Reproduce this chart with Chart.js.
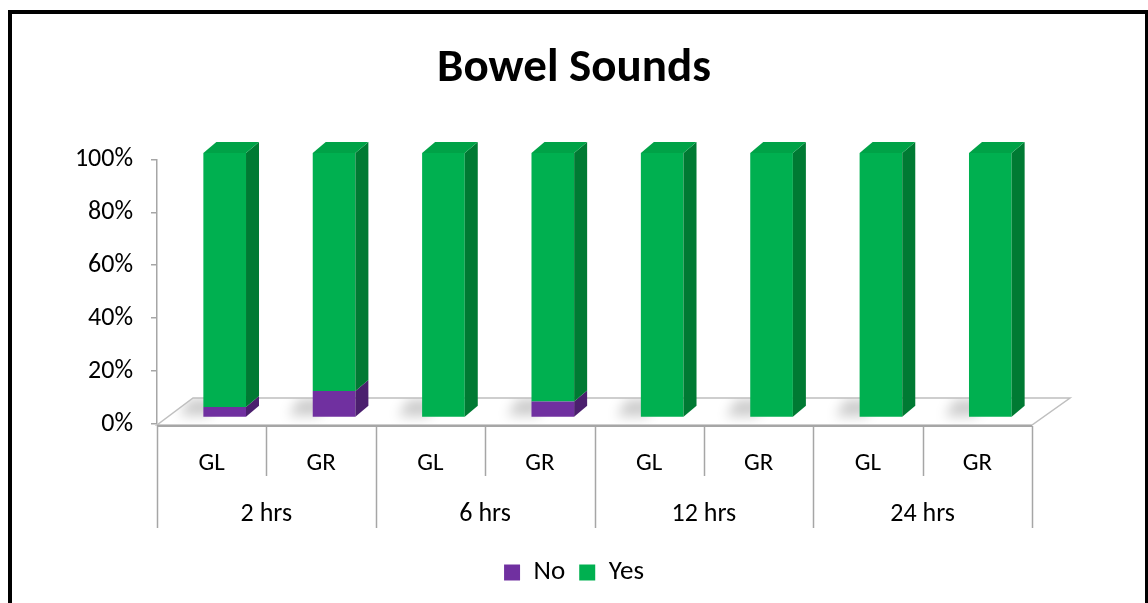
<!DOCTYPE html>
<html><head><meta charset="utf-8">
<script src="https://cdn.jsdelivr.net/npm/chart.js@4.4.1/dist/chart.umd.min.js"></script>
<style>
html,body{margin:0;padding:0;background:#fff;overflow:hidden;}
#wrap{position:relative;width:1148px;height:603px;}
#c{position:absolute;left:0;top:0;}
#frame{position:absolute;left:8px;top:10px;width:1141px;height:700px;border:4px solid #000;box-sizing:border-box;pointer-events:none;}
</style></head>
<body>
<div id="wrap"><canvas id="c" width="1148" height="603"></canvas><div id="frame"></div></div>
<script>
const groups = ['2 hrs', '6 hrs', '12 hrs', '24 hrs'];
const categories = ['GL', 'GR', 'GL', 'GR', 'GL', 'GR', 'GL', 'GR'];
const noValues = [4, 10, 0, 6, 0, 0, 0, 0];
const yesValues = [96, 90, 100, 94, 100, 100, 100, 100];
const seriesNames = ['No', 'Yes'];

const FONT = "Carlito, Calibri, 'Open Sans', sans-serif";
const GEO = {bx: 13, by: -6.5, dx: 13, dy: -11, fx: 38, fy: -27};
const SIDE = ['#4B1F6E', '#007A33'];
const TOPC = ['#5E2788', '#00A247'];
const LINE = '#A6A6A6';

const floorPlugin = {
  id: 'floor3d',
  beforeDatasetsDraw(chart) {
    const ctx = chart.ctx;
    const {left, right, bottom} = chart.chartArea;
    const fb = bottom + 1;
    const floorPath = () => {
      ctx.beginPath();
      ctx.moveTo(left, fb);
      ctx.lineTo(right, fb);
      ctx.lineTo(right + GEO.fx, fb + GEO.fy);
      ctx.lineTo(left + GEO.fx - 2, fb + GEO.fy);
      ctx.closePath();
    };
    ctx.save();
    floorPath();
    ctx.fillStyle = '#ffffff';
    ctx.fill();
    ctx.save();
    ctx.clip();
    ctx.filter = 'blur(6px)';
    ctx.fillStyle = 'rgba(0,0,0,0.2)';
    const meta = chart.getDatasetMeta(0);
    meta.data.forEach(el => {
      const x = el.x + GEO.bx, b = el.base + GEO.by, w = el.width;
      ctx.beginPath();
      ctx.moveTo(x - w / 2 - 24, b - 1);
      ctx.lineTo(x - w / 2 + 6, b - 1);
      ctx.lineTo(x - w / 2 + 16, b - 18);
      ctx.lineTo(x - w / 2 - 14, b - 18);
      ctx.closePath();
      ctx.fill();
    });
    ctx.restore();
    floorPath();
    ctx.strokeStyle = '#BFBFBF';
    ctx.lineWidth = 1.5;
    ctx.stroke();
    ctx.beginPath();
    ctx.moveTo(left, fb + 1);
    ctx.lineTo(right, fb + 1);
    ctx.strokeStyle = LINE;
    ctx.lineWidth = 2;
    ctx.stroke();
    ctx.restore();
    ctx.save();
    ctx.translate(GEO.bx, GEO.by);
  },
  afterDatasetsDraw(chart) {
    const ctx = chart.ctx;
    const n = chart.data.datasets.length;
    for (let d = 0; d < n; d++) {
      const meta = chart.getDatasetMeta(d);
      meta.data.forEach((el, i) => {
        const v = chart.data.datasets[d].data[i];
        if (!v) return;
        const w = el.width, l = el.x - w / 2, r = el.x + w / 2;
        const top = Math.min(el.y, el.base), bot = Math.max(el.y, el.base);
        ctx.beginPath();
        ctx.moveTo(r, top);
        ctx.lineTo(r + GEO.dx, top + GEO.dy);
        ctx.lineTo(r + GEO.dx, bot + GEO.dy);
        ctx.lineTo(r, bot);
        ctx.closePath();
        ctx.fillStyle = SIDE[d];
        ctx.fill();
        let isTop = true;
        for (let k = d + 1; k < n; k++) if (chart.data.datasets[k].data[i]) isTop = false;
        if (isTop) {
          ctx.beginPath();
          ctx.moveTo(l, top);
          ctx.lineTo(l + GEO.dx, top + GEO.dy);
          ctx.lineTo(r + GEO.dx, top + GEO.dy);
          ctx.lineTo(r, top);
          ctx.closePath();
          ctx.fillStyle = TOPC[d];
          ctx.fill();
        }
      });
    }
    ctx.restore();
  }
};

const axisPlugin = {
  id: 'groupAxis',
  afterDraw(chart) {
    const ctx = chart.ctx;
    const xs = chart.scales.x;
    const bottom = chart.chartArea.bottom + 2;
    const half = (xs.getPixelForValue(1) - xs.getPixelForValue(0)) / 2;
    ctx.save();
    ctx.strokeStyle = LINE;
    ctx.lineWidth = 1.5;
    for (let i = 0; i <= categories.length; i++) {
      const x = (i < categories.length ? xs.getPixelForValue(i) - half : xs.getPixelForValue(i - 1) + half);
      const len = (i % 2 === 0) ? 102 : 50;
      ctx.beginPath();
      ctx.moveTo(Math.round(x) + 0.5, bottom);
      ctx.lineTo(Math.round(x) + 0.5, bottom + len);
      ctx.stroke();
    }
    ctx.fillStyle = '#000';
    ctx.font = '26px ' + FONT;
    ctx.textAlign = 'center';
    ctx.textBaseline = 'middle';
    groups.forEach((g, k) => {
      const x = (xs.getPixelForValue(2 * k) + xs.getPixelForValue(2 * k + 1)) / 2;
      ctx.fillText(g, x, bottom + 88);
    });
    ctx.restore();
  }
};

new Chart(document.getElementById('c'), {
  type: 'bar',
  data: {
    labels: categories,
    datasets: [
      {label: seriesNames[0], data: noValues, backgroundColor: '#7030A0', borderWidth: 0, clip: false},
      {label: seriesNames[1], data: yesValues, backgroundColor: '#00B050', borderWidth: 0, clip: false}
    ]
  },
  options: {
    responsive: false,
    animation: false,
    layout: {padding: {left: 0, right: 0, top: 0, bottom: 7}},
    datasets: {bar: {barPercentage: 0.39, categoryPercentage: 1}},
    scales: {
      x: {
        stacked: true,
        grid: {display: false},
        border: {display: false},
        ticks: {font: {family: FONT, size: 25}, color: '#000', padding: 17, maxRotation: 0, autoSkip: false},
        afterFit(scale) { scale.height = 121; }
      },
      y: {
        stacked: true,
        min: 0, max: 100,
        grid: {display: true, drawOnChartArea: false, drawTicks: true, tickLength: 6, color: LINE, lineWidth: 1.5},
        border: {display: true, color: LINE, width: 1.5},
        ticks: {stepSize: 20, padding: 18, font: {family: FONT, size: 26}, color: '#000', callback: v => v + '%'},
        afterFit(scale) { scale.width = 157; }
      },
      yRight: {
        position: 'right',
        display: true,
        grid: {display: false},
        border: {display: false},
        ticks: {display: false},
        afterFit(scale) { scale.width = 116; }
      }
    },
    plugins: {
      title: {display: true, text: 'Bowel Sounds', color: '#000', font: {family: FONT, size: 47, weight: 'bold'}, padding: {top: 41, bottom: 62}},
      legend: {position: 'bottom', labels: {boxWidth: 16, boxHeight: 16, padding: 14, color: '#000', font: {family: FONT, size: 27}}},
      tooltip: {enabled: false}
    }
  },
  plugins: [floorPlugin, axisPlugin]
});
</script>
</body></html>
